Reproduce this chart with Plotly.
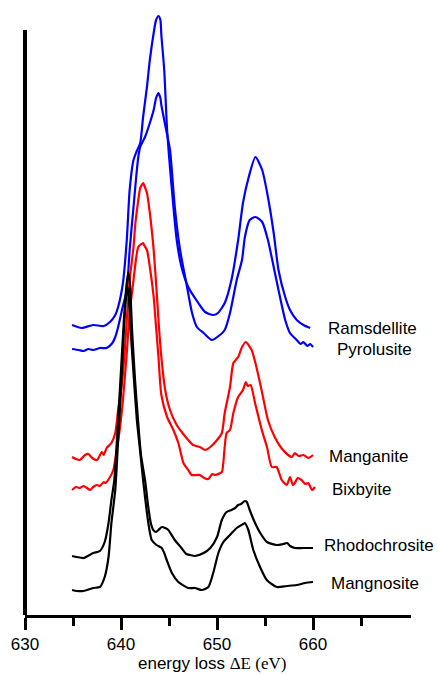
import plotly.graph_objects as go

# Energy loss (eV) and intensity (arbitrary units, vertically offset)
ramsdellite_e = [634.9, 635.9, 637.1, 638.2, 638.85, 639.4, 639.7, 640.2, 640.6, 640.9, 641.3, 641.6, 642.0, 642.3, 642.7, 643.0, 643.4, 643.65, 643.9, 644.1, 644.2, 644.5, 644.8, 645.3, 645.8, 646.3, 647.0, 648.05, 648.75, 649.6, 650.1, 650.8, 651.5, 652.2, 652.7, 653.3, 654.0, 654.7, 655.3, 655.9, 656.4, 657.1, 657.6, 658.3, 659.0, 659.7]
ramsdellite_i = [290, 287, 290, 289, 293, 300, 308, 332, 375, 425, 455, 463, 472, 498, 528, 555, 582, 595, 599, 595, 580, 545, 485, 425, 375, 348, 328, 312, 303, 300, 302, 312, 335, 375, 412, 438, 458, 445, 418, 382, 345, 318, 305, 295, 290, 287]

pyrolusite_e = [634.9, 635.6, 636.1, 636.6, 637.1, 637.8, 638.5, 639.1, 639.4, 639.7, 640.1, 640.6, 640.9, 641.3, 641.6, 641.8, 642.0, 642.5, 643.0, 643.4, 643.65, 643.9, 644.1, 644.2, 644.6, 645.1, 645.6, 646.15, 646.8, 647.4, 647.9, 648.6, 649.45, 650.3, 650.8, 651.35, 652.05, 652.6, 652.9, 653.4, 654.0, 654.7, 655.3, 655.9, 656.4, 657.1, 657.6, 658.3, 658.7, 659.0, 659.4, 659.7, 660.0]
pyrolusite_i = [266, 265, 264, 266, 265, 267, 267, 272, 278, 288, 305, 325, 365, 408, 440, 458, 468, 478, 492, 505, 517, 522, 517, 510, 490, 465, 408, 365, 332, 302, 288, 282, 275, 280, 285, 302, 335, 355, 378, 395, 398, 393, 375, 348, 325, 295, 282, 275, 271, 273, 269, 271, 268]

manganite_e = [634.9, 635.3, 635.7, 636.25, 636.6, 637.0, 637.5, 638.0, 638.2, 638.5, 639.0, 639.4, 639.7, 640.1, 640.4, 640.6, 640.9, 641.3, 641.5, 641.8, 642.0, 642.3, 642.4, 642.7, 643.0, 643.4, 643.7, 643.95, 644.2, 644.6, 645.1, 645.8, 646.4, 647.0, 647.5, 648.2, 648.75, 649.3, 650.0, 650.5, 650.8, 651.35, 651.7, 652.2, 652.6, 653.0, 653.6, 654.1, 654.7, 655.3, 656.0, 656.7, 657.4, 657.8, 658.1, 658.5, 659.0, 659.5, 660.0]
manganite_i = [158, 156, 155, 160, 161, 157, 155, 163, 160, 167, 172, 182, 205, 232, 265, 295, 335, 368, 392, 415, 427, 432, 430, 422, 402, 365, 325, 288, 258, 225, 205, 190, 182, 175, 170, 168, 165, 168, 175, 182, 202, 228, 252, 258, 268, 273, 265, 248, 222, 195, 178, 167, 160, 158, 162, 159, 160, 157, 160]

bixbyite_e = [634.9, 635.3, 635.7, 636.1, 636.8, 637.1, 637.5, 637.8, 638.2, 638.4, 638.85, 639.2, 639.55, 639.9, 640.2, 640.6, 640.9, 641.3, 641.55, 641.8, 642.3, 642.4, 642.7, 643.0, 643.4, 643.65, 643.9, 644.2, 644.8, 645.45, 645.97, 646.5, 647.0, 647.35, 648.2, 648.65, 649.1, 649.5, 649.8, 650.5, 650.65, 651.0, 651.35, 651.7, 652.2, 652.7, 653.0, 653.2, 653.5, 653.96, 654.66, 655.2, 655.7, 656.2, 656.74, 657.26, 657.6, 657.9, 658.1, 658.4, 658.8, 659.2, 659.5, 659.9, 660.2]
bixbyite_i = [125, 128, 127, 129, 125, 128, 130, 129, 133, 132, 138, 145, 165, 188, 215, 262, 302, 335, 355, 368, 372, 370, 365, 348, 318, 288, 258, 220, 198, 185, 172, 152, 145, 140, 140, 137, 136, 141, 140, 143, 152, 182, 185, 202, 218, 225, 233, 229, 230, 212, 185, 168, 148, 148, 135, 130, 138, 130, 132, 137, 135, 131, 132, 125, 128]

rhodochrosite_e = [634.9, 635.4, 636.1, 637.1, 637.8, 638.3, 638.7, 639.0, 639.3, 639.7, 640.0, 640.3, 640.57, 640.76, 640.94, 641.15, 641.46, 641.77, 642.08, 642.5, 642.84, 643.1, 643.36, 643.65, 643.9, 644.24, 644.6, 644.93, 645.6, 646.3, 646.8, 647.2, 647.7, 648.6, 649.3, 650.0, 650.5, 651.0, 651.5, 651.9, 652.2, 652.5, 652.9, 653.1, 653.4, 653.96, 654.5, 655.2, 656.2, 656.9, 657.3, 657.6, 658.1, 659.0, 660.0]
rhodochrosite_i = [59, 58, 57, 62, 64, 73, 92, 115, 135, 195, 245, 295, 330, 343, 330, 285, 235, 195, 160, 135, 108, 92, 85, 83, 85, 88, 87, 85, 75, 67, 61, 60, 59, 62, 67, 78, 95, 103, 105, 107, 110, 111, 114, 113, 105, 92, 82, 73, 70, 71, 72, 69, 67, 67, 67]

mangnosite_e = [634.9, 635.4, 636.1, 637.1, 637.8, 638.3, 638.7, 639.0, 639.4, 639.7, 640.0, 640.3, 640.5, 640.66, 640.8, 641.0, 641.35, 641.65, 641.98, 642.3, 642.7, 643.0, 643.2, 643.7, 644.24, 644.5, 644.76, 645.3, 645.97, 647.0, 647.7, 648.4, 649.1, 649.6, 650.14, 650.66, 651.35, 652.05, 652.74, 652.9, 653.26, 653.78, 654.48, 655.18, 656.22, 657.26, 658.3, 659.17, 660.0]
mangnosite_i = [25, 24, 24, 27, 28, 38, 58, 92, 125, 175, 225, 285, 315, 328, 320, 285, 235, 195, 165, 135, 102, 83, 75, 70, 67, 62, 55, 42, 33, 27, 27, 25, 28, 42, 62, 73, 80, 87, 91, 92, 85, 65, 48, 35, 28, 29, 30, 32, 33]

series = [
    ("Ramsdellite", ramsdellite_e, ramsdellite_i, "#0000FF", 661.35, 287),
    ("Pyrolusite", pyrolusite_e, pyrolusite_i, "#0000FF", 662.3, 266),
    ("Manganite", manganite_e, manganite_i, "#FF0000", 661.46, 159),
    ("Bixbyite", bixbyite_e, bixbyite_i, "#FF0000", 661.77, 126),
    ("Rhodochrosite", rhodochrosite_e, rhodochrosite_i, "#000000", 660.94, 70),
    ("Mangnosite", mangnosite_e, mangnosite_i, "#000000", 661.67, 32),
]

x_tickvals = [630, 640, 650, 660]
x_ticktext = ["630", "640", "650", "660"]
x_minorvals = [635, 645, 655, 665]

fig = go.Figure()
annotations = []
for name, e, i, color, lx, ly in series:
    fig.add_trace(go.Scatter(x=e, y=i, mode="lines", name=name,
                             line=dict(color=color, width=2.2, shape="spline", smoothing=0.6),
                             showlegend=False))
    annotations.append(dict(x=lx, y=ly, xref="x", yref="y", text=name,
                            showarrow=False, xanchor="left", yanchor="middle",
                            font=dict(family="Liberation Sans, Arial", size=17, color="black")))

annotations.append(dict(x=0.484, y=-0.0985, xref="paper", yref="paper",
                        text='energy loss <span style="font-family:Liberation Serif, Times New Roman">ΔE (eV)</span>',
                        showarrow=False, xanchor="center", yanchor="bottom",
                        font=dict(family="Liberation Sans, Arial", size=17, color="black")))

fig.update_layout(
    width=438, height=675,
    margin=dict(l=25, r=27, t=10, b=60),
    paper_bgcolor="white", plot_bgcolor="white",
    annotations=annotations,
    shapes=[dict(type="line", xref="paper", yref="paper", x0=0, x1=0, y0=0, y1=585/605,
                 line=dict(color="black", width=4))],
)
fig.update_xaxes(range=[630, 670.2], showline=True, linecolor="black", linewidth=3,
                 ticks="outside", ticklen=12, tickwidth=3, tickcolor="black",
                 tickvals=x_tickvals, ticktext=x_ticktext,
                 tickfont=dict(family="Liberation Sans, Arial", size=17, color="black"),
                 minor=dict(tickvals=x_minorvals, ticklen=8, tickwidth=3, tickcolor="black", ticks="outside"),
                 showgrid=False, zeroline=False, fixedrange=True)
fig.update_yaxes(range=[0, 605], showline=False, showticklabels=False, ticks="",
                 showgrid=False, zeroline=False, fixedrange=True)

fig.write_html("out.html")
